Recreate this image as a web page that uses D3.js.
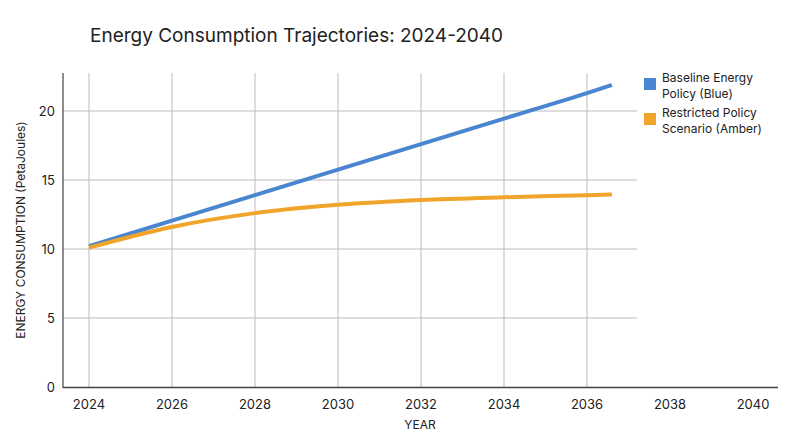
<!DOCTYPE html><html><head><meta charset="utf-8"><script src="https://cdn.jsdelivr.net/npm/d3@7"></script>
<style>body{margin:0;background:#fff}text{font-family:Inter,"Liberation Sans",sans-serif}</style></head><body><svg width="800" height="447"></svg>
<script>
const years=[2024,2026,2028,2030,2032,2034,2036,2036.6];
const baseline=[10.2,12.05,13.9,15.75,17.6,19.45,21.3,21.88];
const restricted=[10.1,11.6,12.6,13.2,13.55,13.75,13.9,13.95];
const xTicks=[2024,2026,2028,2030,2032,2034,2036,2038,2040];
const yTicks=[0,5,10,15,20];
const series=[{name:["Baseline Energy","Policy (Blue)"],vals:baseline,color:"#4a86d0"},{name:["Restricted Policy","Scenario (Amber)"],vals:restricted,color:"#f0a42a"}];
const svg=d3.select("svg");
const x=d3.scaleLinear().domain([2024,2040]).range([89,753]);
const y=d3.scaleLinear().domain([0,20]).range([387,111]);
const L=63,R=778,G=637,T=73;
svg.append("text").attr("x",90).attr("y",42).attr("font-size",19).attr("fill","#222").text("Energy Consumption Trajectories: 2024-2040");
const g=svg.append("g");
yTicks.slice(1).forEach(t=>g.append("line").attr("x1",L).attr("x2",G).attr("y1",y(t)).attr("y2",y(t)).attr("stroke","#bbb"));
xTicks.filter(t=>x(t)<G).forEach(t=>g.append("line").attr("x1",x(t)).attr("x2",x(t)).attr("y1",T).attr("y2",387).attr("stroke","#bbb"));
g.append("line").attr("x1",L).attr("x2",L).attr("y1",T).attr("y2",388).attr("stroke","#444").attr("stroke-width",1.2);
g.append("line").attr("x1",L).attr("x2",R).attr("y1",387.5).attr("y2",387.5).attr("stroke","#444").attr("stroke-width",1.5);
yTicks.forEach(t=>svg.append("text").attr("x",55).attr("y",y(t)+5).attr("text-anchor","end").attr("font-size",13).attr("fill","#222").text(t));
xTicks.forEach(t=>svg.append("text").attr("x",x(t)).attr("y",409).attr("text-anchor","middle").attr("font-size",13).attr("fill","#222").text(t));
svg.append("text").attr("x",420).attr("y",429).attr("text-anchor","middle").attr("font-size",12).attr("fill","#222").text("YEAR");
svg.append("text").attr("transform","translate(25,230) rotate(-90)").attr("text-anchor","middle").attr("font-size",12).attr("fill","#222").text("ENERGY CONSUMPTION (PetaJoules)");
const line=d3.line().x((d,i)=>x(years[i])).y(d=>y(d)).curve(d3.curveMonotoneX);
series.forEach((s,k)=>{
 svg.append("path").attr("d",line(s.vals)).attr("fill","none").attr("stroke",s.color).attr("stroke-width",4);
 const ly=72+k*35;
 svg.append("rect").attr("x",644).attr("y",ly+6).attr("width",12).attr("height",12).attr("fill",s.color);
 s.name.forEach((n,j)=>svg.append("text").attr("x",662).attr("y",ly+j*16).attr("dy","0.8em").attr("font-size",12).attr("fill","#222").text(n));
});
</script></body></html>
